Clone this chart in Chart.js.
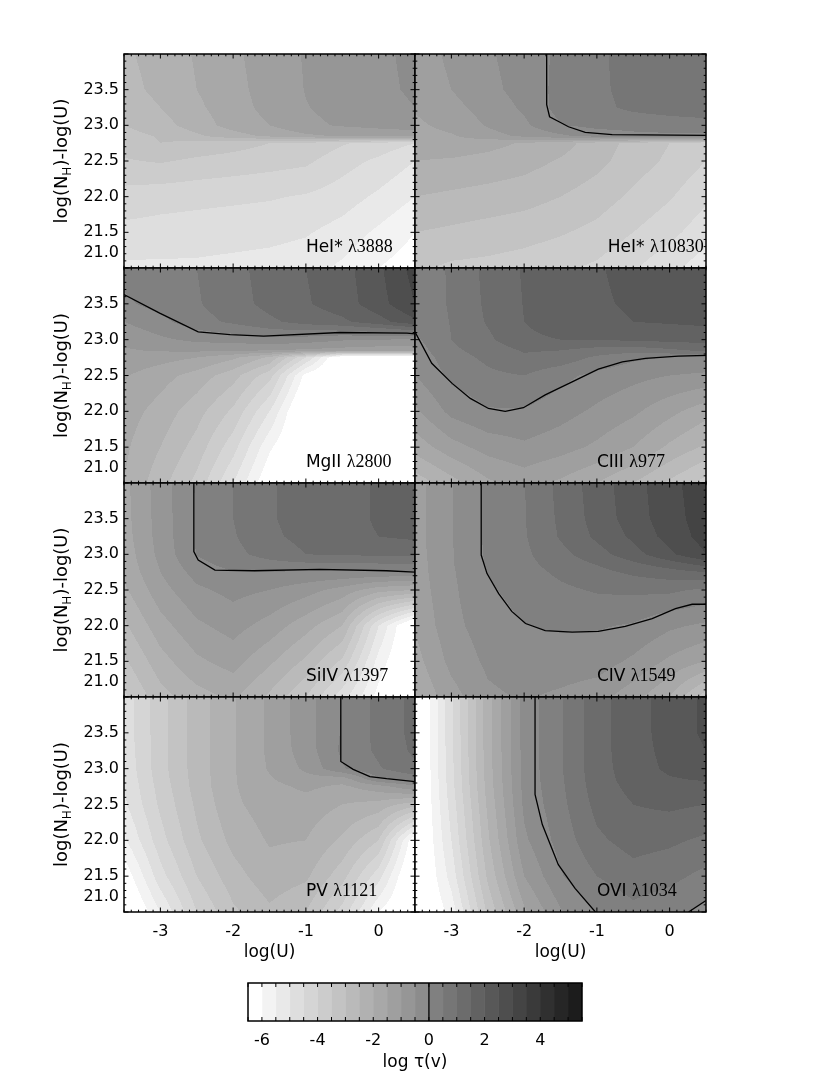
<!DOCTYPE html>
<html>
<head>
<meta charset="UTF-8">
<title>log tau contour grid</title>
<script src="https://cdn.jsdelivr.net/npm/chart.js"></script>
<style>
  body { margin: 0; background: #fff; overflow: hidden; }
  #wrap { position: relative; width: 830px; height: 1075px; }
  #wrap canvas { position: absolute; }
</style>
</head>
<body>
<div id="wrap"></div>
<script>
// grid axes of the model tables
const logU = [-3.5, -3, -2.5, -2, -1.5, -1, -0.5, 0, 0.5];
const logNHmU = [21.0, 21.5, 22.0, 22.5, 22.75, 22.85, 23.0, 23.25, 23.5, 24.0];

// colour levels of log tau (colorbar)
const levelEdges = [-6.5, -6, -5.5, -5, -4.5, -4, -3.5, -3, -2.5, -2, -1.5, -1, -0.5,
                    0, 0.5, 1, 1.5, 2, 2.5, 3, 3.5, 4, 4.5, 5, 5.5];
const levelGrays = [255, 243, 233, 222, 213, 204, 195, 186, 177, 168, 159, 150,
                    140, 128, 118, 108, 98, 88, 78, 68, 58, 48, 38, 28];
const barTicks = [-6, -4, -2, 0, 2, 4];
const uTicks = [-3, -2, -1, 0];
const nTicks = [21.5, 22.0, 22.5, 23.0, 23.5];

// log tau tables: one inner array per logU value, running along logNHmU
const tauHeI3888 = [
  [-5.1, -4.65, -4.2, -3.55, -3.3, -3.2, -3.0, -2.85, -2.7, -2.6],
  [-5.1, -4.7, -4.3, -3.45, -3.0, -2.95, -2.7, -2.5, -2.35, -2.27],
  [-5.1, -4.75, -4.35, -3.6, -3.15, -2.6, -2.25, -2.1, -2.0, -1.95],
  [-5.15, -4.8, -4.4, -3.7, -3.3, -2.2, -1.8, -1.7, -1.65, -1.6],
  [-5.2, -4.85, -4.45, -3.8, -3.5, -1.9, -1.5, -1.35, -1.3, -1.25],
  [-5.3, -4.95, -4.55, -3.9, -3.6, -1.6, -1.1, -1.02, -0.98, -0.96],
  [-5.6, -5.2, -4.75, -4.3, -3.95, -1.45, -0.95, -0.85, -0.82, -0.8],
  [-6.0, -5.6, -5.1, -4.6, -4.2, -1.35, -0.85, -0.7, -0.62, -0.6],
  [-6.3, -6.0, -5.5, -5.0, -4.5, -1.3, -0.75, -0.5, -0.42, -0.38]
];
const tauHeI10830 = [
  [-3.4, -3.0, -2.5, -2.0, -1.8, -1.7, -1.6, -1.45, -1.33, -1.25],
  [-3.6, -3.1, -2.6, -2.05, -1.75, -1.55, -1.35, -1.15, -1.0, -0.9],
  [-3.65, -3.2, -2.7, -2.15, -1.85, -1.2, -0.95, -0.8, -0.65, -0.57],
  [-3.75, -3.3, -2.8, -2.3, -2.05, -0.9, -0.6, -0.42, -0.3, -0.25],
  [-3.9, -3.45, -3.0, -2.55, -2.3, -0.6, -0.03, 0.2, 0.15, 0.1],
  [-4.1, -3.65, -3.25, -2.85, -2.75, -0.3, 0.15, 0.38, 0.42, 0.43],
  [-4.45, -4.0, -3.6, -3.25, -3.15, -0.15, 0.2, 0.6, 0.63, 0.65],
  [-4.85, -4.35, -3.95, -3.6, -3.5, -0.1, 0.25, 0.72, 0.78, 0.8],
  [-5.3, -4.8, -4.4, -4.0, -3.9, -0.1, 0.3, 0.8, 0.88, 0.9]
];
const tauMgII = [
  [-2.0, -1.9, -1.75, -1.45, -1.15, -1.05, -0.9, -0.5, -0.1, 0.2],
  [-2.8, -2.5, -2.2, -1.8, -1.3, -0.95, -0.6, -0.15, 0.2, 0.32],
  [-3.65, -3.2, -2.8, -2.2, -1.5, -0.9, -0.38, 0.3, 0.45, 0.5],
  [-5.0, -4.3, -3.6, -2.8, -1.9, -0.95, -0.3, 0.6, 0.8, 0.85],
  [-6.5, -5.9, -5.0, -3.8, -2.6, -1.0, -0.13, 0.9, 1.15, 1.2],
  [-7, -7, -7, -6.2, -4.5, -1.1, -0.25, 1.2, 1.45, 1.5],
  [-7, -7, -7, -7, -7, -1.2, -0.44, 1.4, 1.75, 1.8],
  [-7, -7, -7, -7, -7, -1.3, -0.5, 1.8, 2.3, 2.4],
  [-7, -7, -7, -7, -7, -1.3, -0.57, 2.4, 3.0, 3.2]
];
const tauCIII = [
  [-2.8, -1.8, -1.1, -0.5, -0.35, -0.25, -0.1, 0.1, 0.2, 0.25],
  [-2.2, -1.2, -0.35, 0.12, 0.3, 0.4, 0.5, 0.53, 0.55, 0.55],
  [-1.6, -0.8, -0.05, 0.4, 0.6, 0.7, 0.9, 1.05, 1.1, 1.15],
  [-1.3, -0.6, -0.05, 0.5, 0.9, 1.05, 1.4, 1.5, 1.52, 1.55],
  [-1.6, -0.8, -0.3, 0.15, 0.8, 1.0, 1.5, 1.75, 1.8, 1.82],
  [-2.0, -1.1, -0.6, -0.15, 0.4, 0.8, 1.5, 1.9, 1.95, 1.97],
  [-2.5, -1.5, -0.9, -0.35, 0.1, 0.7, 1.6, 2.0, 2.05, 2.1],
  [-3.1, -2.1, -1.35, -0.5, -0.03, 0.9, 1.65, 2.05, 2.15, 2.2],
  [-3.7, -2.6, -1.8, -0.6, -0.05, 1.1, 1.7, 2.1, 2.2, 2.25]
];
const tauSiIV = [
  [-3.6, -3.1, -2.6, -2.1, -1.9, -1.85, -1.8, -1.72, -1.68, -1.65],
  [-2.7, -2.2, -1.7, -1.2, -1.0, -0.95, -0.85, -0.8, -0.78, -0.75],
  [-2.2, -1.6, -1.1, -0.6, -0.3, -0.15, 0.02, 0.05, 0.05, 0.05],
  [-1.9, -1.3, -0.8, -0.35, -0.03, 0.15, 0.35, 0.45, 0.5, 0.5],
  [-2.6, -1.9, -1.2, -0.5, -0.02, 0.3, 0.7, 0.9, 0.95, 0.95],
  [-3.5, -2.6, -1.8, -0.8, -0.05, 0.35, 1.0, 1.15, 1.2, 1.2],
  [-4.8, -3.6, -2.5, -1.2, -0.05, 0.35, 1.05, 1.35, 1.35, 1.35],
  [-6.2, -5.7, -5.0, -1.8, -0.05, 0.4, 1.1, 1.5, 1.55, 1.55],
  [-7, -7, -7, -2.0, -0.1, 0.4, 1.1, 1.6, 1.75, 1.75]
];
const tauCIV = [
  [-2.0, -1.7, -1.45, -1.3, -1.25, -1.25, -1.22, -1.2, -1.2, -1.2],
  [-1.2, -0.85, -0.65, -0.6, -0.57, -0.55, -0.54, -0.53, -0.52, -0.52],
  [-0.6, -0.4, -0.25, -0.08, 0.01, 0.05, 0.08, 0.1, 0.1, 0.1],
  [-0.45, -0.2, -0.01, 0.2, 0.3, 0.35, 0.4, 0.45, 0.47, 0.48],
  [-0.6, -0.2, 0.05, 0.4, 0.6, 0.7, 0.85, 1.05, 1.1, 1.15],
  [-0.8, -0.25, 0.05, 0.55, 0.85, 1.0, 1.3, 1.6, 1.7, 1.75],
  [-1.3, -0.6, -0.05, 0.6, 1.1, 1.35, 1.8, 2.1, 2.25, 2.3],
  [-2.0, -1.1, -0.4, 0.6, 1.3, 1.7, 2.4, 2.7, 2.8, 2.85],
  [-3.3, -1.5, -0.6, 0.4, 1.5, 2.1, 3.0, 3.2, 3.25, 3.3]
];
const tauPV = [
  [-7, -6.4, -5.6, -5.1, -5.0, -4.95, -4.9, -4.85, -4.8, -4.8],
  [-5.5, -4.7, -4.2, -3.9, -3.8, -3.75, -3.7, -3.7, -3.7, -3.7],
  [-4.0, -3.5, -3.1, -2.9, -2.8, -2.78, -2.76, -2.75, -2.75, -2.75],
  [-3.1, -2.7, -2.35, -2.1, -2.05, -2.05, -2.05, -2.05, -2.05, -2.05],
  [-2.6, -2.2, -1.95, -1.75, -1.65, -1.55, -1.45, -1.4, -1.4, -1.4],
  [-3.0, -2.4, -2.0, -1.7, -1.4, -1.2, -0.9, -0.75, -0.7, -0.7],
  [-4.2, -3.3, -2.6, -2.0, -1.6, -1.3, -0.05, 0.1, 0.05, 0.02],
  [-6.0, -4.8, -3.5, -2.2, -1.2, -0.1, 0.45, 0.6, 0.65, 0.65],
  [-7, -7, -6.5, -2.8, -0.6, 0.2, 0.9, 1.1, 1.15, 1.15]
];
const tauOVI = [
  [-7, -7, -7, -7, -7, -7, -7, -7, -7, -7],
  [-5.8, -5.3, -5.0, -4.8, -4.7, -4.68, -4.65, -4.62, -4.6, -4.6],
  [-3.4, -2.9, -2.6, -2.4, -2.3, -2.28, -2.25, -2.22, -2.2, -2.2],
  [-1.6, -1.0, -0.6, -0.4, -0.35, -0.33, -0.32, -0.31, -0.3, -0.3],
  [-0.55, -0.05, 0.2, 0.35, 0.4, 0.42, 0.44, 0.45, 0.45, 0.45],
  [0.02, 0.5, 0.9, 1.15, 1.25, 1.28, 1.3, 1.3, 1.3, 1.3],
  [0.35, 0.8, 1.2, 1.5, 1.65, 1.7, 1.75, 1.8, 1.8, 1.8],
  [0.15, 0.65, 1.1, 1.6, 1.85, 1.95, 2.1, 2.15, 2.2, 2.2],
  [-0.15, 0.35, 0.9, 1.5, 1.85, 2.05, 2.3, 2.5, 2.6, 2.6]
];

// log tau = 0 contour, [logU, logNH-logU] pairs, one array per segment
const zeroHeI3888 = [];
const zeroHeI10830 = [[[-1.69, 24], [-1.69, 23.29], [-1.65, 23.12], [-1.52, 23.05], [-1.39, 22.98],
                       [-1.16, 22.9], [-0.79, 22.87], [0.5, 22.86]]];
const zeroMgII = [[[-3.5, 23.63], [-3.01, 23.37], [-2.48, 23.11], [-2.04, 23.07], [-1.58, 23.05],
                   [-0.53, 23.1], [0.39, 23.09], [0.5, 23.08]]];
const zeroCIII = [[[-3.5, 23.11], [-3.27, 22.67], [-2.99, 22.39], [-2.74, 22.18], [-2.49, 22.04],
                   [-2.26, 22.0], [-2.01, 22.05], [-1.71, 22.23], [-1.34, 22.41], [-0.98, 22.59],
                   [-0.65, 22.69], [-0.33, 22.74], [0.12, 22.77], [0.5, 22.78]]];
const zeroSiIV = [[[-2.54, 24], [-2.54, 23.04], [-2.48, 22.92], [-2.25, 22.78], [-1.72, 22.77],
                   [-0.81, 22.79], [0.11, 22.77], [0.5, 22.75]]];
const zeroCIV = [[[-2.59, 24], [-2.59, 22.99], [-2.51, 22.73], [-2.35, 22.45], [-2.17, 22.2],
                  [-1.98, 22.03], [-1.71, 21.93], [-1.34, 21.91], [-0.98, 21.92], [-0.61, 21.99],
                  [-0.24, 22.1], [0.08, 22.24], [0.31, 22.3], [0.5, 22.3]]];
const zeroPV = [[[-0.52, 24], [-0.52, 23.1], [-0.35, 22.99], [-0.12, 22.89], [0.11, 22.86], [0.5, 22.82]]];
const zeroOVI = [[[-1.85, 24], [-1.85, 22.64], [-1.75, 22.22], [-1.53, 21.66], [-1.3, 21.33], [-1.02, 21.0]],
                 [[0.26, 21.0], [0.5, 21.16]]];

const panels = [
  { ion: 'HeI*', line: 'λ3888', tau: tauHeI3888, zero: zeroHeI3888, labelU: -1.0 },
  { ion: 'HeI*', line: 'λ10830', tau: tauHeI10830, zero: zeroHeI10830, labelU: -0.85 },
  { ion: 'MgII', line: 'λ2800', tau: tauMgII, zero: zeroMgII, labelU: -1.0 },
  { ion: 'CIII', line: 'λ977', tau: tauCIII, zero: zeroCIII, labelU: -1.0 },
  { ion: 'SiIV', line: 'λ1397', tau: tauSiIV, zero: zeroSiIV, labelU: -1.0 },
  { ion: 'CIV', line: 'λ1549', tau: tauCIV, zero: zeroCIV, labelU: -1.0 },
  { ion: 'PV', line: 'λ1121', tau: tauPV, zero: zeroPV, labelU: -1.0 },
  { ion: 'OVI', line: 'λ1034', tau: tauOVI, zero: zeroOVI, labelU: -1.0 }
];

const SANS = '"DejaVu Sans", "Liberation Sans", sans-serif';
const SERIF = '"Liberation Serif", "DejaVu Serif", serif';
Chart.defaults.font.family = SANS;
Chart.defaults.font.size = 16;
Chart.defaults.color = '#000';
Chart.defaults.animation = false;

const wrap = document.getElementById('wrap');
const rowTop = [54, 268, 483, 697];
const rowBottom = [268, 483, 697, 912];
const colLeft = [124, 415];
const colRight = [415, 706];
const PAD = 6;
const MAJ = 4.5, MIN = 2.3;
const XAXIS_H = 62;

function interval(arr, val) {
  let i = 0;
  while (i < arr.length - 2 && val > arr[i + 1]) i++;
  const t = (val - arr[i]) / (arr[i + 1] - arr[i]);
  return [i, Math.min(1, Math.max(0, t))];
}

function tauAt(tau, u, v) {
  const [i, tx] = interval(logU, u);
  const [j, ty] = interval(logNHmU, v);
  return tau[i][j] * (1 - tx) * (1 - ty) + tau[i + 1][j] * tx * (1 - ty) +
         tau[i][j + 1] * (1 - tx) * ty + tau[i + 1][j + 1] * tx * ty;
}

function grayOf(val) {
  let k = Math.floor((val - levelEdges[0]) / 0.5);
  k = Math.max(0, Math.min(levelGrays.length - 1, k));
  return levelGrays[k];
}

function addCanvas(left, top, w, h) {
  const c = document.createElement('canvas');
  c.width = w; c.height = h;
  c.style.left = left + 'px'; c.style.top = top + 'px';
  c.style.width = w + 'px'; c.style.height = h + 'px';
  wrap.appendChild(c);
  return c;
}

panels.forEach((p, n) => {
  const r = Math.floor(n / 2), c = n % 2;
  const isLeft = c === 0, isBottom = r === 3;
  const left = isLeft ? 0 : colLeft[c] - PAD;
  const top = rowTop[r] - PAD;
  const w = colRight[c] + PAD - left;
  const h = rowBottom[r] + (isBottom ? XAXIS_H : PAD) - top;
  const canvas = addCanvas(left, top, w, h);

  const fillPlugin = {
    id: 'fill' + n,
    beforeDatasetsDraw(chart) {
      const { ctx, chartArea: a, scales: { x, y } } = chart;
      const L = Math.round(a.left), T = Math.round(a.top);
      const W = Math.round(a.right) - L, H = Math.round(a.bottom) - T;
      const off = document.createElement('canvas');
      off.width = W; off.height = H;
      const octx = off.getContext('2d');
      const img = octx.createImageData(W, H);
      for (let py = 0; py < H; py++) {
        const v = y.getValueForPixel(T + py + 0.5);
        for (let px = 0; px < W; px++) {
          const u = x.getValueForPixel(L + px + 0.5);
          const g = grayOf(tauAt(p.tau, u, v));
          const o = (py * W + px) * 4;
          img.data[o] = g; img.data[o + 1] = g; img.data[o + 2] = g; img.data[o + 3] = 255;
        }
      }
      octx.putImageData(img, 0, 0);
      ctx.drawImage(off, L, T);
    },
    afterDatasetsDraw(chart) {
      const { ctx, chartArea: a, scales: { x, y } } = chart;
      ctx.save();
      ctx.strokeStyle = '#000';
      ctx.lineWidth = 1;
      ctx.beginPath();
      for (let t = -35; t <= 5; t++) {
        const px = x.getPixelForValue(t / 10);
        const len = t % 10 === 0 ? MAJ : MIN;
        ctx.moveTo(px, a.bottom); ctx.lineTo(px, a.bottom - len);
        ctx.moveTo(px, a.top); ctx.lineTo(px, a.top + len);
      }
      for (let t = 210; t <= 240; t++) {
        const py = y.getPixelForValue(t / 10);
        const len = t % 5 === 0 ? MAJ : MIN;
        ctx.moveTo(a.left, py); ctx.lineTo(a.left + len, py);
        ctx.moveTo(a.right, py); ctx.lineTo(a.right - len, py);
      }
      ctx.stroke();
      ctx.lineWidth = 1.5;
      ctx.strokeRect(a.left, a.top, a.right - a.left, a.bottom - a.top);

      // line label
      const lx = x.getPixelForValue(p.labelU);
      const ly = y.getPixelForValue(21.22);
      ctx.fillStyle = '#000';
      ctx.textBaseline = 'alphabetic';
      ctx.textAlign = 'left';
      ctx.font = '17px ' + SANS;
      const head = p.ion + ' ';
      ctx.fillText(head, lx, ly);
      const hw = ctx.measureText(head).width;
      ctx.font = '18px ' + SERIF;
      ctx.fillText(p.line, lx + hw, ly);

      if (isLeft) {
        // lowest y label sits above the frame corner
        ctx.font = '16px ' + SANS;
        ctx.textAlign = 'right';
        ctx.textBaseline = 'middle';
        ctx.fillText('21.0', a.left - 5, y.getPixelForValue(21.0) - 15);

        // axis title with subscript
        ctx.save();
        ctx.translate(67, (a.top + a.bottom) / 2);
        ctx.rotate(-Math.PI / 2);
        ctx.textBaseline = 'alphabetic';
        ctx.textAlign = 'left';
        const big = '18px ' + SANS;
        const small = '12px ' + SANS;
        ctx.font = big; const w1 = ctx.measureText('log(N').width;
        ctx.font = small; const w2 = ctx.measureText('H').width;
        ctx.font = big; const w3 = ctx.measureText(')-log(U)').width;
        let sx = -(w1 + w2 + w3) / 2;
        ctx.font = big; ctx.fillText('log(N', sx, 0); sx += w1;
        ctx.font = small; ctx.fillText('H', sx, 4); sx += w2;
        ctx.font = big; ctx.fillText(')-log(U)', sx, 0);
        ctx.restore();
      }
      ctx.restore();
    }
  };

  new Chart(canvas, {
    type: 'scatter',
    data: {
      datasets: p.zero.map(seg => ({
        data: seg.map(([u, v]) => ({ x: u, y: v })),
        showLine: true,
        borderColor: '#000',
        borderWidth: 1.3,
        pointRadius: 0,
        tension: 0,
        fill: false
      }))
    },
    options: {
      responsive: false,
      layout: { padding: { left: isLeft ? 0 : PAD, right: PAD, top: PAD, bottom: isBottom ? 0 : PAD } },
      plugins: { legend: { display: false }, tooltip: { enabled: false } },
      events: [],
      scales: {
        x: {
          type: 'linear', min: -3.5, max: 0.5, display: isBottom,
          grid: { display: false, drawTicks: false }, border: { display: false },
          ticks: { padding: 10, maxRotation: 0, autoSkip: false, callback: v => String(v) },
          afterBuildTicks: s => { s.ticks = uTicks.map(v => ({ value: v })); },
          afterFit: s => {
            if (!isBottom) return;
            s.height = XAXIS_H; s.paddingLeft = 0; s.paddingRight = 0;
          },
          title: { display: true, text: 'log(U)', font: { size: 17 }, padding: { top: 2, bottom: 11 } }
        },
        y: {
          type: 'linear', min: 21, max: 24, display: isLeft,
          grid: { display: false, drawTicks: false }, border: { display: false },
          ticks: { padding: 5, autoSkip: false, callback: v => Number(v).toFixed(1) },
          afterBuildTicks: s => { s.ticks = nTicks.map(v => ({ value: v })); },
          afterFit: s => {
            if (!isLeft) return;
            s.width = colLeft[0]; s.paddingTop = 0; s.paddingBottom = 0;
          }
        }
      }
    },
    plugins: [fillPlugin]
  });
});

// colorbar
const barCanvas = addCanvas(248 - PAD, 983 - PAD, 334 + 2 * PAD, 1075 - (983 - PAD));
new Chart(barCanvas, {
  type: 'bar',
  data: {
    labels: [''],
    datasets: levelGrays.map((g, k) => ({
      data: [[levelEdges[k], levelEdges[k + 1]]],
      backgroundColor: `rgb(${g},${g},${g})`,
      borderWidth: 0,
      grouped: false,
      barPercentage: 1,
      categoryPercentage: 1
    }))
  },
  options: {
    responsive: false,
    indexAxis: 'y',
    events: [],
    layout: { padding: { left: PAD, right: PAD, top: PAD, bottom: 0 } },
    plugins: { legend: { display: false }, tooltip: { enabled: false } },
    scales: {
      x: {
        type: 'linear', min: levelEdges[0], max: levelEdges[levelEdges.length - 1],
        grid: { display: false, drawTicks: false }, border: { display: false },
        ticks: { padding: 10, maxRotation: 0, autoSkip: false, callback: v => String(v) },
        afterBuildTicks: s => { s.ticks = barTicks.map(v => ({ value: v })); },
        afterFit: s => { s.height = 1075 - 1021; s.paddingLeft = 0; s.paddingRight = 0; },
        title: { display: true, text: 'log τ(v)', font: { size: 17 }, padding: { top: 2, bottom: 2 } }
      },
      y: { display: false }
    }
  },
  plugins: [{
    id: 'barFrame',
    afterDatasetsDraw(chart) {
      const { ctx, chartArea: a, scales: { x } } = chart;
      ctx.save();
      ctx.strokeStyle = '#000';
      ctx.lineWidth = 1;
      ctx.beginPath();
      levelEdges.forEach(e => {
        const px = x.getPixelForValue(e);
        ctx.moveTo(px, a.top); ctx.lineTo(px, a.top + 4);
        ctx.moveTo(px, a.bottom); ctx.lineTo(px, a.bottom - 4);
      });
      ctx.stroke();
      ctx.lineWidth = 1.3;
      ctx.beginPath();
      const z = x.getPixelForValue(0);
      ctx.moveTo(z, a.top); ctx.lineTo(z, a.bottom);
      ctx.stroke();
      ctx.lineWidth = 1.5;
      ctx.strokeRect(a.left, a.top, a.right - a.left, a.bottom - a.top);
      ctx.restore();
    }
  }]
});
</script>
</body>
</html>
